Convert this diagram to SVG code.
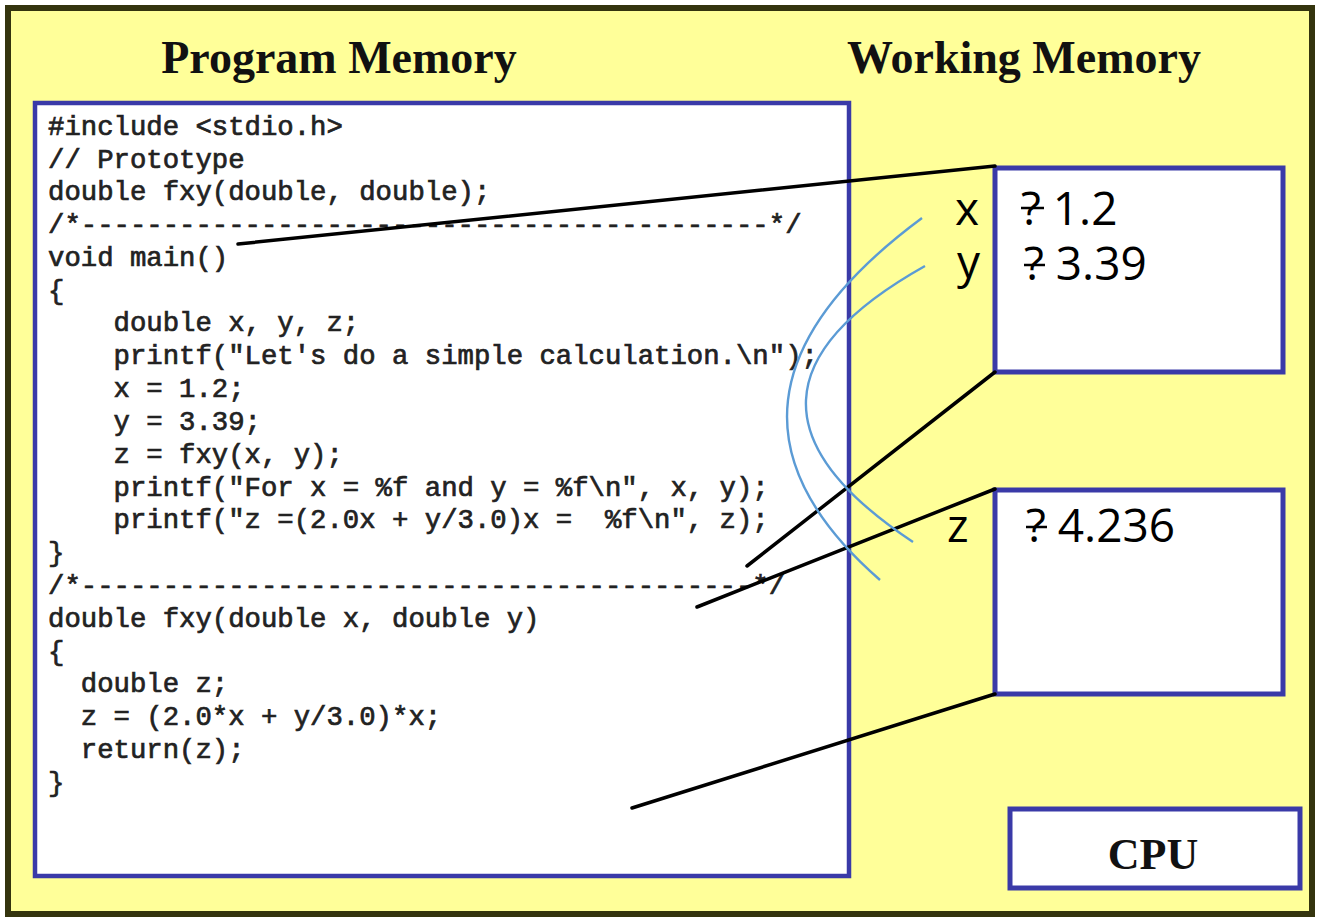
<svg xmlns="http://www.w3.org/2000/svg" width="1317" height="918" viewBox="0 0 1317 918">
<style>
.frame{fill:#ffff99;stroke:#34340e;stroke-width:6}
.box{fill:#ffffff;stroke:#3a3aa8;stroke-width:5}
.title{font-family:"Liberation Serif",serif;font-weight:bold;font-size:46px;fill:#111;text-anchor:middle}
.code{font-family:"Liberation Mono",monospace;font-weight:normal;font-size:27.3px;fill:#222;stroke:#222;stroke-width:0.7;white-space:pre}
.wm{font-family:"Open Sans","DejaVu Sans",sans-serif;font-size:46px;fill:#000}
.conn{stroke:#000;stroke-width:3.5;fill:none;stroke-linecap:round}
.flow{stroke:#5b9bd5;stroke-width:2.4;fill:none}
.strike{stroke:#000;stroke-width:2.5}
</style>
<rect class="frame" x="8" y="8" width="1304" height="906"/>
<text class="title" x="339" y="73">Program Memory</text>
<text class="title" x="1024" y="73">Working Memory</text>
<g id="program-memory">
<rect class="box" x="35" y="103" width="814" height="773" style="stroke-width:4.5"/>
<text class="code" xml:space="preserve"><tspan x="48" y="135">#include &lt;stdio.h&gt;</tspan><tspan x="48" y="168">// Prototype</tspan><tspan x="48" y="200">double fxy(double, double);</tspan><tspan x="48" y="233">/*------------------------------------------*/</tspan><tspan x="48" y="266">void main()</tspan><tspan x="48" y="299">{</tspan><tspan x="48" y="331">    double x, y, z;</tspan><tspan x="48" y="364">    printf("Let's do a simple calculation.\n");</tspan><tspan x="48" y="397">    x = 1.2;</tspan><tspan x="48" y="430">    y = 3.39;</tspan><tspan x="48" y="463">    z = fxy(x, y);</tspan><tspan x="48" y="496">    printf("For x = %f and y = %f\n", x, y);</tspan><tspan x="48" y="528">    printf("z =(2.0x + y/3.0)x =  %f\n", z);</tspan><tspan x="48" y="561">}</tspan><tspan x="48" y="594">/*-----------------------------------------*/</tspan><tspan x="48" y="627">double fxy(double x, double y)</tspan><tspan x="48" y="660">{</tspan><tspan x="48" y="692">  double z;</tspan><tspan x="48" y="725">  z = (2.0*x + y/3.0)*x;</tspan><tspan x="48" y="758">  return(z);</tspan><tspan x="48" y="791">}</tspan></text>
</g>
<g id="wm-main">
<rect class="box" x="995" y="168" width="288" height="204"/>
<text class="wm" x="955" y="225">x</text>
<text class="wm" x="957" y="278">y</text>
<text class="wm" x="1021" y="225">? 1.2</text>
<line class="strike" x1="1021" y1="208" x2="1044" y2="208"/>
<text class="wm" x="1024" y="280">? 3.39</text>
<line class="strike" x1="1024" y1="265" x2="1045" y2="265"/>
</g>
<g id="wm-fxy">
<rect class="box" x="995" y="490" width="288" height="204"/>
<text class="wm" x="947" y="542">z</text>
<text class="wm" x="1026" y="542">? 4.236</text>
<line class="strike" x1="1026" y1="527" x2="1047" y2="527"/>
</g>
<g id="cpu">
<rect class="box" x="1010" y="809" width="290" height="79"/>
<text class="title" x="1153" y="869" style="font-size:44px">CPU</text>
</g>
<g id="connectors">
<line class="conn" x1="238" y1="244" x2="995" y2="166"/>
<line class="conn" x1="747" y1="566" x2="995" y2="372"/>
<line class="conn" x1="697" y1="607" x2="995" y2="489"/>
<line class="conn" x1="632" y1="808" x2="995" y2="694"/>
<path class="flow" d="M922,218 Q675,401 880,580"/>
<path class="flow" d="M925,266 Q693,396 913,542"/>
</g>
</svg>
